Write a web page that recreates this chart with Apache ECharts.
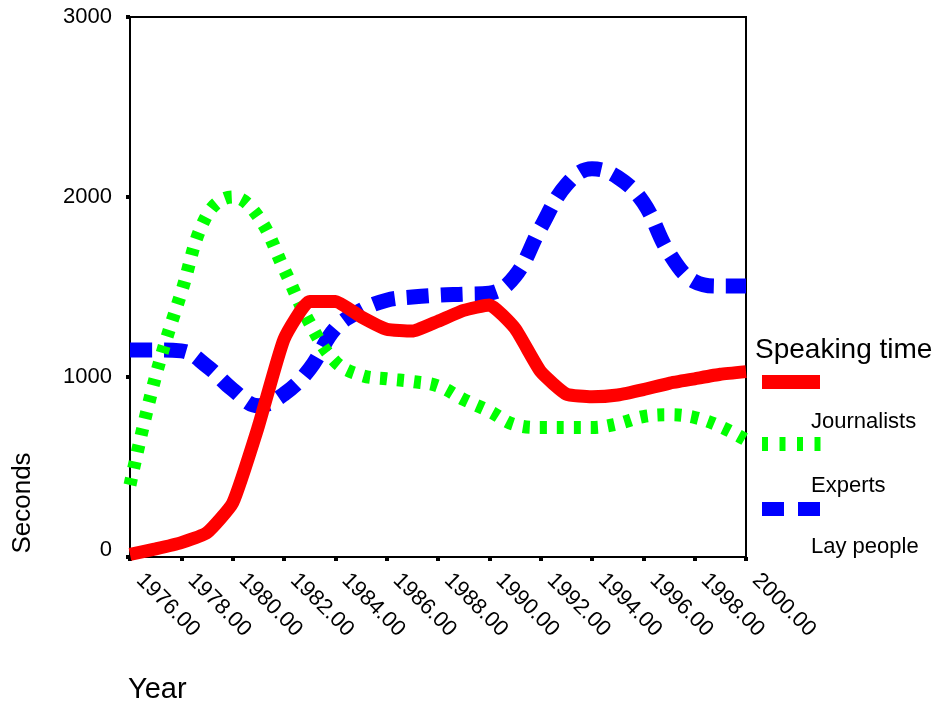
<!DOCTYPE html>
<html>
<head>
<meta charset="utf-8">
<script src="https://cdn.jsdelivr.net/npm/echarts@6/dist/echarts.min.js"></script>
<style>
html,body{margin:0;padding:0;background:#fff;}
#chart{width:936px;height:705px;}
</style>
</head>
<body>
<div id="chart"></div>
<script>
// Data
var years = [1976,1977,1978,1979,1980,1981,1982,1983,1984,1985,1986,1987,1988,1989,1990,1991,1992,1993,1994,1995,1996,1997,1998,1999,2000];
var journalists = [15,45,80,135,300,725,1210,1420,1420,1335,1265,1255,1310,1370,1400,1270,1030,905,890,900,930,965,990,1015,1030];
var experts = [400,1005,1470,1900,2000,1890,1600,1300,1085,1010,990,975,950,875,810,735,720,720,720,740,780,790,775,725,650];
var layPeople = [1150,1150,1145,1060,930,840,905,1045,1270,1370,1427,1444,1455,1460,1466,1560,1830,2067,2157,2110,1970,1690,1530,1505,1505];
var seriesNames = ['Journalists','Experts','Lay people'];
var legendTitle = 'Speaking time';
var xName = 'Year';
var yName = 'Seconds';

function pairs(vals){ return years.map(function(y,i){ return [y, vals[i]]; }); }

var FONT = '"Liberation Sans", Arial, sans-serif';
var chart = echarts.init(document.getElementById('chart'));
chart.setOption({
  animation: false,
  backgroundColor: '#fff',
  textStyle: { fontFamily: FONT },
  grid: { left: 130, right: 190, top: 17, bottom: 148, show: true, borderColor: '#000', borderWidth: 2, backgroundColor: 'transparent' },
  xAxis: {
    type: 'value', min: 1976, max: 2000, interval: 2,
    axisLine: { show: true, lineStyle: { color: '#000', width: 2 } },
    axisTick: { show: true, length: 4, lineStyle: { color: '#000', width: 4 } },
    splitLine: { show: false },
    axisLabel: { rotate: -45, margin: 10, padding: [0, 0, 0, 14], color: '#000', fontSize: 22, fontFamily: FONT,
      formatter: function(v){ return v.toFixed(2); } }
  },
  yAxis: {
    type: 'value', min: 0, max: 3000, interval: 1000,
    axisLine: { show: true, lineStyle: { color: '#000', width: 2 } },
    axisTick: { show: true, length: 4, lineStyle: { color: '#000', width: 4 } },
    splitLine: { show: false },
    axisLabel: { margin: 18, color: '#000', fontSize: 22, fontFamily: FONT,
      formatter: function(v){ return v === 0 ? '{z|0}' : String(v); },
      rich: { z: { fontSize: 22, fontFamily: FONT, color: '#000', padding: [0, 0, 14, 0] } } }
  },
  series: [
    { name: seriesNames[2], type: 'line', data: pairs(layPeople), showSymbol: false, smooth: 0.4,
      lineStyle: { color: '#0000ff', width: 15, type: [22, 12], cap: 'butt' } },
    { name: seriesNames[1], type: 'line', data: pairs(experts), showSymbol: false, smooth: 0.4,
      lineStyle: { color: '#00ff00', width: 13, type: [7, 10], cap: 'butt' } },
    { name: seriesNames[0], type: 'line', data: pairs(journalists), showSymbol: false, smooth: 0.15,
      lineStyle: { color: '#ff0000', width: 13, cap: 'butt' } }
  ],
  graphic: [
    { type: 'text', x: 755, y: 350, style: { text: legendTitle, font: '28px ' + FONT, fill: '#000', align: 'left', verticalAlign: 'middle', textAlign: 'left', textVerticalAlign: 'middle' } },
    { type: 'line', shape: { x1: 762, y1: 382, x2: 820, y2: 382 }, style: { stroke: '#ff0000', lineWidth: 14 } },
    { type: 'text', x: 811, y: 422, style: { text: seriesNames[0], font: '22px ' + FONT, fill: '#000', align: 'left', verticalAlign: 'middle', textAlign: 'left', textVerticalAlign: 'middle' } },
    { type: 'line', shape: { x1: 762, y1: 444, x2: 821, y2: 444 }, style: { stroke: '#00ff00', lineWidth: 14, lineDash: [6, 11.5] } },
    { type: 'text', x: 811, y: 486, style: { text: seriesNames[1], font: '22px ' + FONT, fill: '#000', align: 'left', verticalAlign: 'middle', textAlign: 'left', textVerticalAlign: 'middle' } },
    { type: 'line', shape: { x1: 762, y1: 509, x2: 820, y2: 509 }, style: { stroke: '#0000ff', lineWidth: 14, lineDash: [22, 14] } },
    { type: 'text', x: 811, y: 547, style: { text: seriesNames[2], font: '22px ' + FONT, fill: '#000', align: 'left', verticalAlign: 'middle', textAlign: 'left', textVerticalAlign: 'middle' } },
    { type: 'text', x: 128, y: 690, style: { text: xName, font: '29px ' + FONT, fill: '#000', align: 'left', verticalAlign: 'middle', textAlign: 'left', textVerticalAlign: 'middle' } },
    { type: 'text', x: 23, y: 503, rotation: Math.PI / 2, style: { text: yName, font: '26px ' + FONT, fill: '#000', align: 'center', verticalAlign: 'middle', textAlign: 'center', textVerticalAlign: 'middle' } }
  ]
});
</script>
</body>
</html>
